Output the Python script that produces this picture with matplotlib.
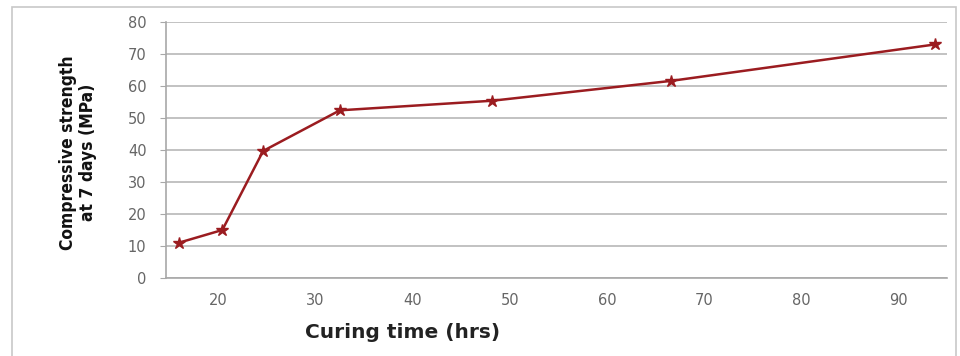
import matplotlib
matplotlib.use("Agg")
import matplotlib.pyplot as plt
from matplotlib.patches import Rectangle

curing_time = [15.9, 20.4, 24.6, 32.5, 48.2, 66.6, 93.8]
strength = [11.0, 15.0, 39.7, 52.4, 55.4, 61.6, 73.0]
x_ticks = [20, 30, 40, 50, 60, 70, 80, 90]
y_ticks = [0, 10, 20, 30, 40, 50, 60, 70, 80]

fig = plt.figure(figsize=(9.6, 3.56), dpi=100)
fig.patches.append(Rectangle((12/960, -0.05), (956-12)/960, 1.05 - 7/356,
                             transform=fig.transFigure, fill=False,
                             edgecolor="#c8c8c8", linewidth=1.2))
ax = fig.add_axes([166/960, 1-278/356, (947-166)/960, (278-22)/356])

ax.plot(curing_time, strength, color="#9b1c20", linewidth=1.8,
        marker="*", markersize=9, markerfacecolor="#9b1c20",
        markeredgecolor="#9b1c20", zorder=3)

ax.set_xlim(14.6, 95)
ax.set_ylim(0, 80)
ax.set_xticks(x_ticks)
ax.set_yticks(y_ticks)
ax.yaxis.grid(True, color="#bdbdbd", linewidth=1.3)
ax.set_axisbelow(True)
for s in ["top", "right"]:
    ax.spines[s].set_visible(False)
ax.spines["left"].set_color("#a8a8a8")
ax.spines["bottom"].set_color("#a8a8a8")
ax.spines["left"].set_linewidth(1.2)
ax.spines["bottom"].set_linewidth(1.2)
ax.tick_params(axis="y", length=4, color="#a8a8a8", labelsize=10.5,
               labelcolor="#666666", pad=10)
ax.tick_params(axis="x", length=0, labelsize=10.5, labelcolor="#666666", pad=11)

ax.set_xlabel("Curing time (hrs)", fontsize=14.5, fontweight="bold",
              color="#222222")
ax.xaxis.set_label_coords((403-166)/781, -0.175)
ax.set_ylabel("Compressive strength\nat 7 days (MPa)", fontsize=12.5,
              family="DejaVu Sans", fontstretch="condensed",
              fontweight="bold", color="#111111", linespacing=1.15)
ax.yaxis.set_label_coords(-(166-97)/781, 0.49)

fig.savefig("out.png", dpi=100)
